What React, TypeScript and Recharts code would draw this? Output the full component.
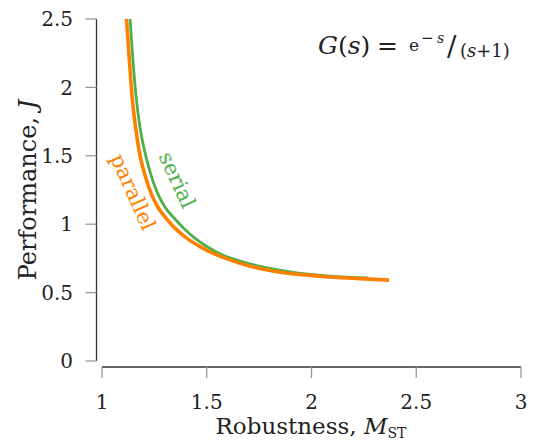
import React from "react"
import { LineChart, Line, XAxis, YAxis, Label } from "recharts"

const xTicks = [1, 1.5, 2, 2.5, 3]
const yTicks = [0, 0.5, 1, 1.5, 2, 2.5]

const parallelM = [
  1.117, 1.129, 1.143, 1.16, 1.181, 1.205, 1.234, 1.267, 1.305, 1.353,
  1.411, 1.468, 1.539, 1.621, 1.707, 1.85, 2.041, 2.232, 2.37,
]
const parallelJ = [
  2.5, 2.236, 1.944, 1.71, 1.505, 1.359, 1.227, 1.124, 1.045, 0.964,
  0.891, 0.836, 0.781, 0.734, 0.693, 0.649, 0.62, 0.602, 0.591,
]

const serialM = [
  1.134, 1.146, 1.162, 1.181, 1.208, 1.234, 1.265, 1.301, 1.344, 1.391,
  1.449, 1.506, 1.573, 1.659, 1.754, 1.897, 2.088, 2.27,
]
const serialJ = [
  2.5, 2.236, 1.944, 1.71, 1.505, 1.359, 1.227, 1.124, 1.045, 0.969,
  0.891, 0.832, 0.777, 0.73, 0.691, 0.652, 0.621, 0.607,
]

const parallel = parallelM.map((m, i) => ({ m, j: parallelJ[i] }))
const serial = serialM.map((m, i) => ({ m, j: serialJ[i] }))

const GREEN = "#4daf4a"
const ORANGE = "#ff7f00"
const FONT = "'DejaVu Serif', serif"

const fmt = (v: number) => String(v)

function XTitle() {
  return (
    <text x={311} y={434} textAnchor="middle" fontFamily={FONT} fontSize={23} fill="#222">
      <tspan>Robustness, </tspan>
      <tspan fontStyle="italic">M</tspan>
      <tspan fontSize={14} dy={4}>ST</tspan>
    </text>
  )
}

function YTitle() {
  return (
    <text
      x={36}
      y={190}
      transform="rotate(-90 36 190)"
      textAnchor="middle"
      fontFamily={FONT}
      fontSize={24}
      fill="#222"
    >
      <tspan>Performance, </tspan>
      <tspan fontStyle="italic">J</tspan>
    </text>
  )
}

export default function App() {
  return (
    <div style={{ position: "absolute", left: 0, top: 0, background: "#fff" }}>
      <LineChart
        width={534}
        height={443}
        margin={{ top: 19, right: 13, bottom: 0, left: 0 }}
      >
        <XAxis
          type="number"
          dataKey="m"
          domain={[1, 3]}
          ticks={xTicks}
          tickFormatter={fmt}
          allowDataOverflow
          height={82}
          tickSize={11}
          tickMargin={23}
          axisLine={{ stroke: "#333", strokeWidth: 1.3, transform: "translate(0 6)" }}
          tickLine={{ stroke: "#999", strokeWidth: 1.3, transform: "translate(0 6)" }}
          tick={{ fill: "#222", fontSize: 20, fontFamily: FONT }}
        >
          <Label content={<XTitle />} />
        </XAxis>
        <YAxis
          type="number"
          dataKey="j"
          domain={[0, 2.5]}
          ticks={yTicks}
          tickFormatter={fmt}
          allowDataOverflow
          width={102}
          tickSize={11}
          tickMargin={18}
          axisLine={{ stroke: "#333", strokeWidth: 1.3, transform: "translate(-5.5 0)" }}
          tickLine={{ stroke: "#999", strokeWidth: 1.3, transform: "translate(-5.5 0)" }}
          tick={{ fill: "#222", fontSize: 20, fontFamily: FONT }}
        >
          <Label content={<YTitle />} />
        </YAxis>
        <Line
          data={serial}
          dataKey="j"
          type="monotone"
          stroke={GREEN}
          strokeWidth={2.8}
          dot={false}
          isAnimationActive={false}
        />
        <Line
          data={parallel}
          dataKey="j"
          type="monotone"
          stroke={ORANGE}
          strokeWidth={3.6}
          dot={false}
          isAnimationActive={false}
        />
        <text
          x={177}
          y={180}
          transform="rotate(65 177 180)"
          textAnchor="middle"
          dominantBaseline="central"
          fontFamily={FONT}
          fontSize={21}
          fill={GREEN}
        >
          serial
        </text>
        <text
          x={133}
          y={192}
          transform="rotate(66 133 192)"
          textAnchor="middle"
          dominantBaseline="central"
          fontFamily={FONT}
          fontSize={21}
          fill={ORANGE}
        >
          parallel
        </text>
        <text fontFamily={FONT} fill="#222">
          <tspan x={318} y={54} fontSize={25}>
            <tspan fontStyle="italic">G</tspan>(<tspan fontStyle="italic">s</tspan>)
          </tspan>
          <tspan x={377} y={54} fontSize={25}>=</tspan>
          <tspan x={409} y={51} fontSize={17}>e</tspan>
          <tspan x={421} y={43} fontSize={15}>−</tspan>
          <tspan x={437} y={43} fontSize={14} fontStyle="italic">s</tspan>
          <tspan x={447} y={56} fontSize={28}>/</tspan>
          <tspan x={460} y={57} fontSize={18}>
            (<tspan fontStyle="italic">s</tspan>+1)
          </tspan>
        </text>
      </LineChart>
    </div>
  )
}
